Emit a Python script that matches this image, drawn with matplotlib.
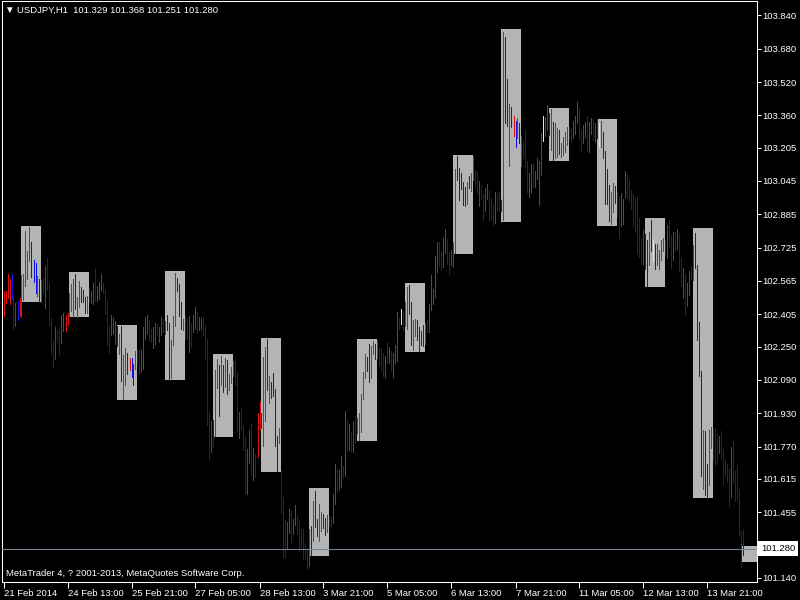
import matplotlib
matplotlib.use('Agg')
import matplotlib.pyplot as plt
from matplotlib.patches import Rectangle
from matplotlib.transforms import blended_transform_factory

plt.rcParams['font.family'] = ['Liberation Sans', 'DejaVu Sans']

# USDJPY H1 bars, first bar 21 Feb 2014 05:00
highs = [
    102.517, 102.517, 102.599, 102.575, 102.599, 102.493, 102.460, 102.469, 102.484, 102.594,
    102.599, 102.805, 102.709, 102.824, 102.752, 102.666, 102.652, 102.589, 102.575, 102.570,
    102.580, 102.637, 102.676, 102.556, 102.388, 102.277, 102.344, 102.330, 102.344, 102.402,
    102.412, 102.402, 102.412, 102.508, 102.551, 102.575, 102.599, 102.488, 102.565, 102.536,
    102.522, 102.488, 102.493, 102.532, 102.517, 102.556, 102.623, 102.541, 102.560, 102.599,
    102.556, 102.522, 102.469, 102.349, 102.402, 102.388, 102.373, 102.349, 102.311, 102.349,
    102.210, 102.244, 102.220, 102.196, 102.196, 102.167, 102.229, 102.234, 102.234, 102.239,
    102.344, 102.392, 102.402, 102.378, 102.335, 102.344, 102.364, 102.359, 102.344, 102.392,
    102.383, 102.373, 102.402, 102.364, 102.282, 102.397, 102.604, 102.580, 102.551, 102.464,
    102.383, 102.402, 102.388, 102.397, 102.364, 102.402, 102.440, 102.416, 102.392, 102.388,
    102.392, 102.354, 102.287, 101.941, 101.893, 101.898, 102.138, 102.191, 102.162, 102.205,
    102.162, 102.196, 102.186, 102.119, 102.152, 102.181, 102.191, 102.128, 101.936, 101.956,
    101.869, 101.816, 101.759, 101.850, 101.879, 101.764, 101.735, 101.932, 101.984, 101.932,
    102.200, 102.248, 102.287, 102.109, 102.080, 102.124, 102.047, 101.821, 101.860, 101.658,
    101.528, 101.418, 101.408, 101.471, 101.461, 101.423, 101.490, 101.437, 101.418, 101.375,
    101.375, 101.308, 101.279, 101.375, 101.389, 101.509, 101.557, 101.423, 101.495, 101.456,
    101.447, 101.428, 101.442, 101.437, 101.432, 101.543, 101.687, 101.663, 101.658, 101.725,
    101.677, 101.941, 101.898, 101.879, 101.840, 101.893, 101.917, 101.908, 101.932, 102.023,
    102.128, 102.215, 102.200, 102.263, 102.253, 102.277, 102.263, 102.277, 102.248, 102.244,
    102.220, 102.205, 102.272, 102.248, 102.229, 102.220, 102.258, 102.416, 102.388, 102.431,
    102.421, 102.464, 102.536, 102.546, 102.464, 102.378, 102.383, 102.378, 102.344, 102.325,
    102.354, 102.364, 102.378, 102.455, 102.594, 102.527, 102.685, 102.752, 102.752, 102.704,
    102.772, 102.815, 102.767, 102.704, 102.714, 102.752, 103.103, 103.165, 103.108, 103.084,
    103.040, 103.016, 103.040, 103.069, 103.084, 103.160, 103.098, 103.088, 103.045, 103.026,
    102.983, 103.012, 103.031, 103.002, 102.964, 102.930, 102.992, 102.988, 102.992, 102.954,
    103.760, 103.736, 103.535, 103.415, 103.400, 103.357, 103.333, 103.348, 103.324, 103.261,
    103.237, 103.290, 103.141, 103.084, 103.127, 103.132, 103.093, 103.156, 103.141, 103.276,
    103.357, 103.352, 103.410, 103.372, 103.391, 103.328, 103.324, 103.300, 103.290, 103.228,
    103.256, 103.280, 103.304, 103.304, 103.300, 103.333, 103.357, 103.424, 103.396, 103.290,
    103.314, 103.328, 103.357, 103.328, 103.348, 103.343, 103.324, 103.343, 103.324, 103.333,
    103.280, 103.189, 103.103, 103.026, 102.992, 103.036, 103.021, 102.992, 102.973, 102.988,
    102.959, 103.093, 103.074, 103.055, 103.002, 102.983, 102.964, 102.968, 102.868, 102.772,
    102.810, 102.791, 102.762, 102.800, 102.858, 102.767, 102.743, 102.743, 102.714, 102.762,
    102.772, 102.762, 102.834, 102.858, 102.786, 102.800, 102.800, 102.815, 102.796, 102.676,
    102.628, 102.599, 102.556, 102.613, 102.637, 102.738, 102.796, 102.642, 102.368, 102.133,
    101.850, 101.845, 101.687, 101.850, 101.864, 101.860, 101.855, 101.831, 101.821, 101.845,
    101.759, 101.711, 101.687, 101.663, 101.768, 101.797, 101.653, 101.682, 101.567, 101.365,
    101.368,
]

lows = [
    102.397, 102.460, 102.484, 102.455, 102.479, 102.335, 102.349, 102.378, 102.397, 102.392,
    102.474, 102.541, 102.575, 102.661, 102.584, 102.560, 102.508, 102.493, 102.464, 102.464,
    102.508, 102.436, 102.522, 102.354, 102.215, 102.152, 102.191, 102.272, 102.215, 102.268,
    102.325, 102.325, 102.354, 102.397, 102.421, 102.392, 102.431, 102.392, 102.440, 102.464,
    102.464, 102.412, 102.412, 102.464, 102.460, 102.455, 102.469, 102.469, 102.479, 102.522,
    102.508, 102.407, 102.258, 102.220, 102.306, 102.311, 102.263, 102.253, 102.215, 102.085,
    101.999, 102.066, 102.119, 102.138, 102.104, 102.066, 102.143, 102.167, 102.119, 102.128,
    102.143, 102.287, 102.316, 102.282, 102.272, 102.244, 102.263, 102.311, 102.272, 102.306,
    102.320, 102.311, 102.330, 102.090, 102.100, 102.258, 102.349, 102.517, 102.397, 102.335,
    102.330, 102.287, 102.287, 102.224, 102.248, 102.320, 102.335, 102.316, 102.330, 102.335,
    102.306, 102.186, 101.874, 101.711, 101.744, 101.773, 101.821, 102.052, 101.917, 102.066,
    102.032, 102.056, 102.023, 102.042, 102.076, 102.109, 102.066, 101.845, 101.812, 101.850,
    101.754, 101.548, 101.543, 101.692, 101.634, 101.610, 101.624, 101.720, 101.855, 101.860,
    101.773, 101.893, 102.042, 101.980, 102.004, 102.013, 101.773, 101.653, 101.788, 101.452,
    101.240, 101.240, 101.279, 101.356, 101.312, 101.351, 101.394, 101.351, 101.269, 101.279,
    101.231, 101.231, 101.183, 101.197, 101.250, 101.317, 101.384, 101.341, 101.317, 101.365,
    101.380, 101.346, 101.360, 101.389, 101.384, 101.404, 101.495, 101.552, 101.567, 101.576,
    101.620, 101.629, 101.754, 101.754, 101.744, 101.744, 101.792, 101.836, 101.802, 101.840,
    101.999, 102.100, 102.133, 102.080, 102.100, 102.215, 102.191, 102.196, 102.162, 102.138,
    102.109, 102.104, 102.172, 102.172, 102.133, 102.104, 102.172, 102.181, 102.335, 102.359,
    102.330, 102.349, 102.335, 102.407, 102.258, 102.234, 102.301, 102.282, 102.229, 102.258,
    102.253, 102.263, 102.320, 102.320, 102.426, 102.455, 102.488, 102.608, 102.637, 102.618,
    102.632, 102.700, 102.647, 102.599, 102.642, 102.632, 102.700, 103.050, 102.954, 103.007,
    102.930, 102.925, 102.935, 103.012, 102.997, 103.050, 103.021, 102.988, 102.925, 102.959,
    102.858, 102.901, 102.959, 102.858, 102.858, 102.834, 102.844, 102.901, 102.901, 102.901,
    102.858, 103.324, 103.309, 103.117, 103.304, 103.261, 103.208, 103.252, 103.228, 103.117,
    103.156, 103.108, 102.992, 102.968, 102.992, 103.016, 103.016, 103.055, 102.930, 103.074,
    103.237, 103.261, 103.290, 103.266, 103.194, 103.146, 103.156, 103.160, 103.175, 103.160,
    103.170, 103.184, 103.218, 103.247, 103.232, 103.252, 103.271, 103.324, 103.242, 103.194,
    103.228, 103.256, 103.189, 103.184, 103.271, 103.242, 103.232, 103.252, 103.208, 103.208,
    103.156, 102.935, 102.935, 102.853, 102.839, 102.896, 102.940, 102.872, 102.772, 102.829,
    102.839, 102.968, 102.964, 102.949, 102.911, 102.829, 102.800, 102.700, 102.680, 102.652,
    102.647, 102.623, 102.541, 102.642, 102.709, 102.661, 102.623, 102.642, 102.623, 102.666,
    102.709, 102.695, 102.676, 102.733, 102.628, 102.666, 102.714, 102.719, 102.613, 102.541,
    102.484, 102.407, 102.445, 102.498, 102.575, 102.570, 102.628, 102.282, 102.109, 101.629,
    101.567, 101.538, 101.528, 101.586, 101.764, 101.706, 101.682, 101.692, 101.740, 101.711,
    101.591, 101.629, 101.600, 101.485, 101.528, 101.600, 101.509, 101.514, 101.341, 101.192,
    101.251,
]

# r = bull bar, b = bear bar, y = doji
bar_colors = (
    "rrrrbbrbrr" "rrrrbbbrbr" "brbbbbrbbr" "rrrrrrbrrb" "bbrbrrbrrr"
    "bbbbrrrbrb" "rrbrbbrbbr" "rrrbbrrbrr" "brbbrrrbbb" "rbbrbrrbrr"
    "bbbbrbrrbr" "brbrrrbbrb" "bbrrbrbrrb" "rrbrbbbbrb" "bbrrbrrbbb"
    "bbbrbrbbrr" "bbrbbrrbrr" "brbrbrbrrr" "rrbbrrbrbb" "brbrbrrrby"
    "brrbbrrbbb" "brbrrrrrbb" "rrbbrrrbbb" "bbrbrrbbrb" "brrbbbrbbb"
    "rbbrbrbrbr" "bbbrrbrrrr" "yrrbrbrrbr" "rrrbbrrrbb" "rrbrrbrbyr"
    "bbbbrrbbbr" "rrbbbbbbbb" "rbbrbybrrr" "rbrbbrbrbb" "rbrrbrbbbb"
    "rbbrrbbbrb" "bbbbrbbbbb" "b"
)

# session boxes (15:00-24:00 range), one per day
box_high = [102.829, 102.608, 102.354, 102.613, 102.215, 102.292, 101.572, 102.287,
            102.556, 103.170, 103.775, 103.396, 103.343, 102.868, 102.820, 101.293]
box_low = [102.464, 102.392, 101.994, 102.090, 101.816, 101.648, 101.245, 101.797,
           102.224, 102.695, 102.848, 103.141, 102.829, 102.536, 101.524, 101.216]

time_labels = ["21 Feb 2014", "24 Feb 13:00", "25 Feb 21:00", "27 Feb 05:00",
               "28 Feb 13:00", "3 Mar 21:00", "5 Mar 05:00", "6 Mar 13:00",
               "7 Mar 21:00", "11 Mar 05:00", "12 Mar 13:00", "13 Mar 21:00"]

price_ticks = [103.840, 103.680, 103.520, 103.360, 103.205, 103.045, 102.885, 102.725,
               102.565, 102.405, 102.250, 102.090, 101.930, 101.770, 101.615, 101.455,
               101.295, 101.140]

last_ohlc = [101.329, 101.368, 101.251, 101.280]

color_map = {'r': '#e01010', 'b': '#1010e8', 'y': '#ffff00'}
fs = 6.8

fig = plt.figure(figsize=(8, 6), dpi=100, facecolor='black')
ax = fig.add_axes([2 / 800, 18 / 600, 755 / 800, 581 / 600])
ax.set_facecolor('black')
ax.set_xlim(-0.75, 376.75)
ax.set_ylim(101.120, 103.909)

for k in range(len(box_high)):
    start = 9 + 24 * k
    ax.add_patch(Rectangle((start, box_low[k]), 10, box_high[k] - box_low[k],
                           facecolor='#b4b4b4', edgecolor='none', zorder=1))

xs = list(range(len(highs)))
ax.vlines(xs, lows, highs, colors=[color_map[c] for c in bar_colors],
          linewidth=0.72, antialiased=False, zorder=2)

ax.axhline(last_ohlc[3], color='#778899', linewidth=0.75, zorder=3)

# price scale on the right; the label under the current price box is hidden
ax.yaxis.tick_right()
ax.set_yticks(price_ticks)
ax.set_yticklabels(["" if abs(v - 101.295) < 1e-6 else f"{v:.3f}" for v in price_ticks])
ax.tick_params(axis='y', colors='white', length=3, width=0.75, pad=1, labelsize=fs)

# time scale
ax.set_xticks(range(0, 32 * len(time_labels), 32))
ax.set_xticklabels(time_labels, ha='left')
ax.tick_params(axis='x', colors='white', length=4, width=0.75, pad=1, labelsize=fs)

for s in ax.spines.values():
    s.set_color('white')
    s.set_linewidth(0.75)

trans = blended_transform_factory(ax.transAxes, ax.transData)
ax.text(1.0 + 4 / 755, last_ohlc[3], f"{last_ohlc[3]:.3f}", transform=trans,
        color='black', fontsize=fs, va='center', ha='left', zorder=10, clip_on=False,
        bbox=dict(facecolor='white', edgecolor='none', boxstyle='square,pad=0.3'))

fig.text(4 / 800, 1 - 10 / 600, "\u25bc", color='white', fontsize=7, va='center', ha='left')
fig.text(17 / 800, 1 - 10 / 600,
         "USDJPY,H1  " + " ".join(f"{v:.3f}" for v in last_ohlc),
         color='white', fontsize=fs, va='center', ha='left')
fig.text(6 / 800, 1 - 574 / 600, "MetaTrader 4, ? 2001-2013, MetaQuotes Software Corp.",
         color='white', fontsize=fs, va='center', ha='left')

fig.savefig('out.png', dpi=100, facecolor='black')
